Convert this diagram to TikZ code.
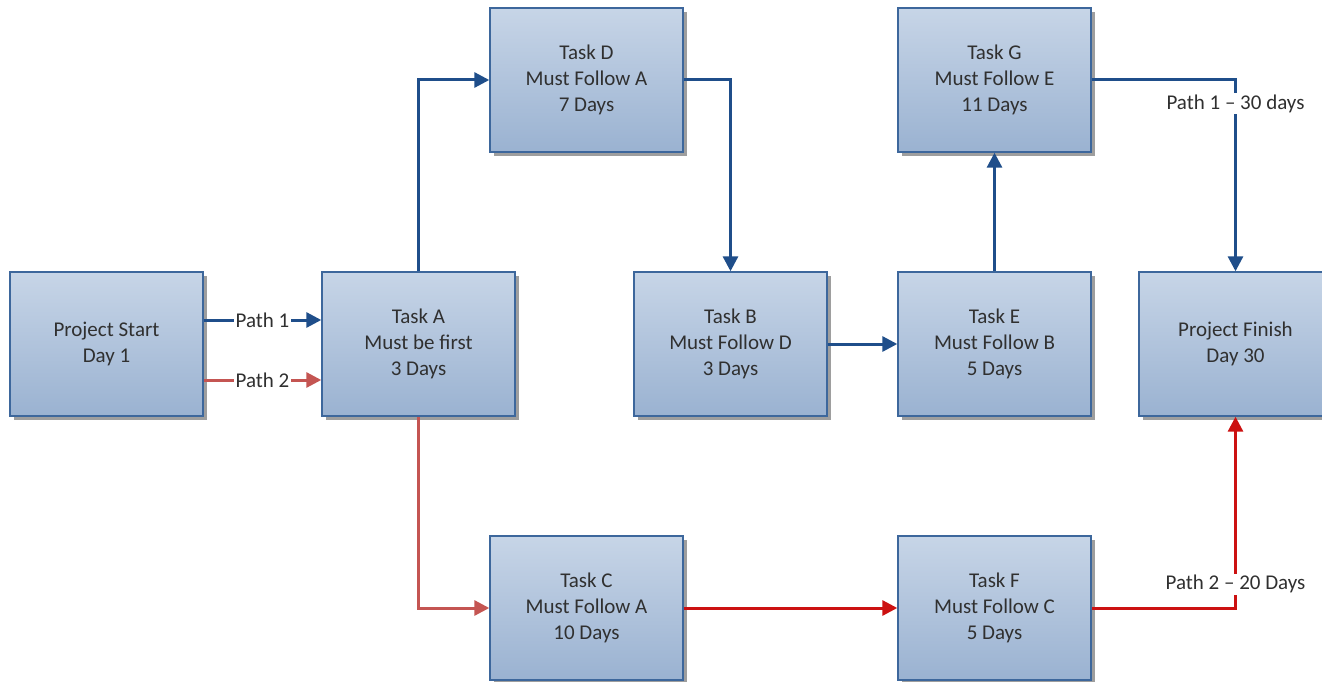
\documentclass[tikz,border=0pt]{standalone}
\usepackage{fontspec}
\setmainfont{Carlito}
\usetikzlibrary{arrows.meta,shadows}
\definecolor{boxtop}{HTML}{C7D5E7}
\definecolor{boxbot}{HTML}{9AB2D1}
\definecolor{boxline}{HTML}{3D679C}
\definecolor{pathblue}{HTML}{1F4E8A}
\definecolor{pathred}{HTML}{CC1111}
\definecolor{pathredlight}{HTML}{C45552}
\definecolor{txt}{HTML}{303030}
\tikzset{
  taskbox/.style={draw=boxline, line width=1.4pt, top color=boxtop, bottom color=boxbot,
    minimum width=193pt, minimum height=144pt, align=center, text=txt,
    font=\fontsize{21pt}{26pt}\selectfont,
    drop shadow={shadow xshift=4pt, shadow yshift=-4pt, fill=black!38, opacity=1}},
  link/.style={line width=3pt, -{Triangle[length=15pt,width=15pt]}},
  blueline/.style={link, draw=pathblue},
  redline/.style={link, draw=pathred},
  lightredline/.style={link, draw=pathredlight},
  pathlabel/.style={fill=white, text=txt, inner sep=1.5pt,
    font=\fontsize{21pt}{24pt}\selectfont}
}
\begin{document}
\begin{tikzpicture}[x=1pt,y=-1pt]
\useasboundingbox (0,0) rectangle (1322,682);
\clip (0,0) rectangle (1322,682);

% task boxes
\node[taskbox] (S) at (106.5,344) {Project Start\\Day 1};
\node[taskbox] (A) at (418.5,344) {Task A\\Must be first\\3 Days};
\node[taskbox] (D) at (586.5,80) {Task D\\Must Follow A\\7 Days};
\node[taskbox] (B) at (730.5,344) {Task B\\Must Follow D\\3 Days};
\node[taskbox] (E) at (994.5,344) {Task E\\Must Follow B\\5 Days};
\node[taskbox] (G) at (994.5,80) {Task G\\Must Follow E\\11 Days};
\node[taskbox] (P) at (1235.5,344) {Project Finish\\Day 30};
\node[taskbox] (C) at (586.5,608) {Task C\\Must Follow A\\10 Days};
\node[taskbox] (F) at (994.5,608) {Task F\\Must Follow C\\5 Days};

% path 1
\draw[blueline] ([yshift=24pt]S.east) -- node[pathlabel] {Path 1} ([yshift=24pt]A.west);
\draw[blueline] (A.north) |- (D.west);
\draw[blueline] (D.east) -| (B.north);
\draw[blueline] (B.east) -- (E.west);
\draw[blueline] (E.north) -- (G.south);
\draw[blueline] (G.east) -| node[pathlabel, pos=0.5625] {Path 1 – 30 days} (P.north);

% path 2
\draw[lightredline] ([yshift=-36pt]S.east) -- node[pathlabel] {Path 2} ([yshift=-36pt]A.west);
\draw[lightredline] (A.south) |- (C.west);
\draw[redline] (C.east) -- (F.west);
\draw[redline] (F.east) -| node[pathlabel, pos=0.5625] {Path 2 – 20 Days} (P.south);
\end{tikzpicture}
\end{document}
